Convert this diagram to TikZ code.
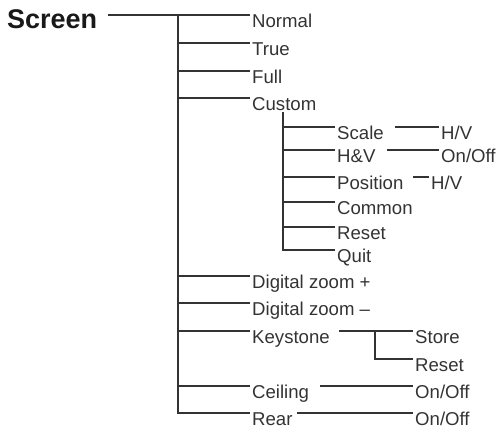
\documentclass[tikz,border=0pt]{standalone}
\usepackage{fontspec}
\setmainfont{Liberation Sans}
\begin{document}
\begin{tikzpicture}[x=1pt,y=-1pt,
  conn/.style={draw=black!80,line width=1.1pt},
  item/.style={anchor=north west,inner sep=0pt,text height=12pt,text depth=0pt,
    font=\fontsize{18.6}{20}\selectfont,text=black!80},
  title/.style={anchor=base west,inner sep=0pt,font=\fontsize{27}{30}\selectfont\bfseries,text=black!90}]
\useasboundingbox (0,0) rectangle (501,431);
\node[title] (screen) at (7,28) {Screen};
% level 1 items
\node[item] (normal) at (252,15) {Normal};
\node[item] (true) at (252,43) {True};
\node[item] (full) at (252,71) {Full};
\node[item] (custom) at (252,98) {Custom};
\node[item] (dzp) at (252,276) {Digital zoom +};
\node[item] (dzm) at (252,303) {Digital zoom –};
\node[item] (key) at (252,331) {Keystone};
\node[item] (ceil) at (252,386) {Ceiling};
\node[item] (rear) at (252,413) {Rear};
% level 2 (custom)
\node[item] (scale) at (337,127) {Scale};
\node[item] (hv) at (337,150) {H\&V};
\node[item] (pos) at (337,177) {Position};
\node[item] (common) at (337,202) {Common};
\node[item] (creset) at (337,227) {Reset};
\node[item] (quit) at (337,250) {Quit};
% level 3
\node[item] (scalehv) at (441,127) {H/V};
\node[item] (hvonoff) at (441,150) {On/Off};
\node[item] (poshv) at (431,177) {H/V};
\node[item] (store) at (415,331) {Store};
\node[item] (kreset) at (415,359) {Reset};
\node[item] (ceilonoff) at (415,386) {On/Off};
\node[item] (rearonoff) at (415,413) {On/Off};
% coordinates
\coordinate (s0) at (108,15);
\coordinate (mv) at (178,15);
\coordinate (cv) at (283,112);
\coordinate (scaleout) at (395,127);
\coordinate (hvout) at (387,150);
\coordinate (posout) at (413,177);
\coordinate (keyout) at (339,331);
\coordinate (kv) at (375,331);
\coordinate (ceilout) at (320,386);
\coordinate (rearout) at (297,413);
% main trunk
\draw[conn] (s0) -- ([xshift=-2pt]normal.north west);
\draw[conn] (mv) |- ([xshift=-2pt]rear.north west);
\foreach \n in {true,full,custom,dzp,dzm,key,ceil}
  \draw[conn] (mv |- \n.north west) -- ([xshift=-2pt]\n.north west);
% custom subtree
\draw[conn] (cv) |- ([xshift=-2pt]quit.north west);
\foreach \n in {scale,hv,pos,common,creset}
  \draw[conn] (cv |- \n.north west) -- ([xshift=-2pt]\n.north west);
% third level
\draw[conn] (scaleout) -- ([xshift=-2pt]scalehv.north west);
\draw[conn] (hvout) -- ([xshift=-2pt]hvonoff.north west);
\draw[conn] (posout) -- ([xshift=-2pt]poshv.north west);
\draw[conn] (keyout) -- ([xshift=-2pt]store.north west);
\draw[conn] (kv) |- ([xshift=-2pt]kreset.north west);
\draw[conn] (ceilout) -- ([xshift=-2pt]ceilonoff.north west);
\draw[conn] (rearout) -- ([xshift=-2pt]rearonoff.north west);
\end{tikzpicture}
\end{document}
